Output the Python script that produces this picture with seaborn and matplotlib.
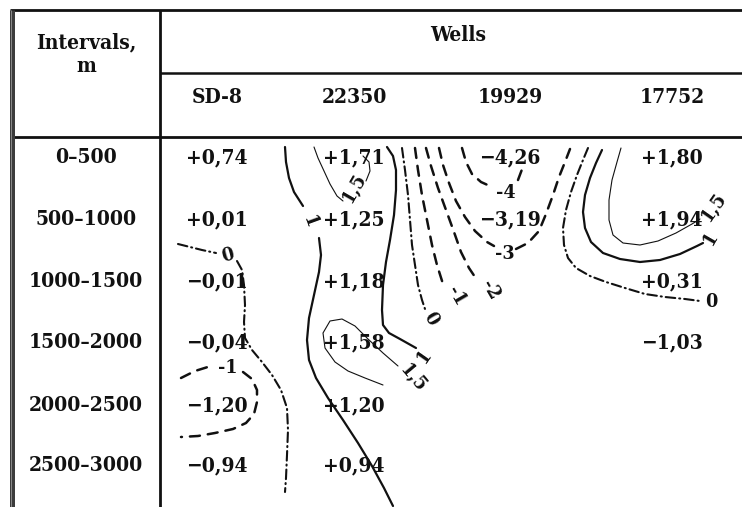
import numpy as np
import pandas as pd
import matplotlib
matplotlib.use("Agg")
import matplotlib.pyplot as plt
import seaborn as sns

# ---- table content -------------------------------------------------------
wells = ["SD-8", "22350", "19929", "17752"]
intervals = ["0–500", "500–1000", "1000–1500", "1500–2000", "2000–2500", "2500–3000"]

sd8 = [0.74, 0.01, -0.01, -0.04, -1.20, -0.94]
w22350 = [1.71, 1.25, 1.18, 1.58, 1.20, 0.94]
w19929 = [-4.26, -3.19, np.nan, np.nan, np.nan, np.nan]
w17752 = [1.80, 1.94, 0.31, -1.03, np.nan, np.nan]
well_values = [sd8, w22350, w19929, w17752]

# ---- isolines (hand-traced, in sheet units) -------------------------------
iso_pos1_west = [
    [(285, 147), (286, 162), (289, 178), (294, 192), (303, 206)],
    [(319, 238), (321, 255), (319, 272), (314, 295), (309, 318), (307, 340),
     (309, 360), (316, 378), (328, 398), (343, 420), (358, 443), (372, 466),
     (384, 488), (393, 506)],
]
iso_pos15_top = [
    [(314, 147), (318, 158), (324, 171), (330, 184), (337, 196), (343, 201)],
    [(366, 181), (370, 171), (369, 162), (363, 156)],
]
iso_pos1_mid = [[(387, 147), (393, 156), (396, 170), (396, 190), (394, 215),
                 (390, 240), (386, 262), (383, 285), (382, 310), (383, 325),
                 (389, 333), (400, 339), (416, 348)]]
iso_pos15_mid = [[(383, 385), (365, 378), (348, 371), (335, 362), (325, 348),
                  (323, 333), (330, 321), (342, 319), (355, 326), (368, 339),
                  (383, 353), (398, 366)]]
iso_zero_mid = [[(402, 148), (405, 170), (408, 195), (410, 220), (412, 245),
                 (415, 265), (418, 285), (422, 300), (425, 309)]]
iso_neg1_mid = [[(415, 148), (418, 170), (422, 195), (427, 220), (432, 245),
                 (437, 265), (443, 284)]]
iso_neg2_mid = [[(426, 148), (431, 166), (438, 188), (446, 210), (454, 232),
                 (461, 252), (469, 268), (477, 280)]]
iso_neg3 = [
    [(439, 148), (443, 165), (449, 183), (456, 201), (465, 217), (475, 231),
     (487, 242), (494, 246)],
    [(516, 249), (528, 243), (539, 231), (546, 214), (553, 195), (559, 177),
     (565, 162), (570, 149)],
]
iso_neg4 = [
    [(462, 148), (466, 162), (472, 174), (481, 182), (492, 187)],
    [(518, 180), (521, 172), (524, 164)],
]
iso_zero_east = [[(588, 148), (583, 160), (577, 175), (571, 192), (566, 210),
                  (563, 228), (564, 245), (568, 258), (576, 268), (590, 276),
                  (606, 282), (625, 288), (645, 294), (665, 297), (685, 299),
                  (700, 301)]]
iso_pos1_east = [[(602, 150), (596, 163), (590, 178), (585, 195), (583, 212),
                  (585, 228), (591, 242), (603, 253), (620, 259), (640, 262),
                  (660, 260), (680, 254), (697, 246), (703, 243)]]
iso_pos15_east = [[(621, 148), (617, 162), (612, 180), (609, 200), (609, 220),
                   (613, 235), (623, 243), (640, 245), (658, 241), (676, 233),
                   (692, 224), (700, 219)]]
iso_zero_west = [
    [(178, 244), (190, 247), (202, 250), (216, 253)],
    [(237, 261), (242, 270), (244, 285), (245, 305), (244, 322), (245, 338),
     (252, 350), (262, 362), (272, 375), (281, 390), (287, 408), (288, 430),
     (287, 455), (286, 478), (285, 492)],
]
iso_neg1_west = [
    [(181, 378), (195, 371), (211, 366)],
    [(243, 372), (252, 379), (257, 390), (257, 402), (254, 414), (246, 423),
     (233, 429), (215, 433), (198, 436), (181, 437)],
]

# isoline labels: text, x, y, rotation
iso_labels = [
    ("1", 310, 222, -70), ("1,5", 355, 188, 60), ("1", 424, 356, 55),
    ("1,5", 413, 379, -50), ("0", 431, 319, -60), ("-1", 456, 296, -60),
    ("-2", 490, 290, -60), ("-3", 505, 254, 0), ("-4", 506, 193, 0),
    ("0", 711, 302, 0), ("1", 711, 238, 60), ("1,5", 714, 207, 55),
    ("0", 228, 256, 15), ("-1", 228, 368, 0),
]

# ---- layout ---------------------------------------------------------------
col_x = [217, 354, 510, 672]
row_y = [156, 218, 280, 341, 404, 464]

sns.set_theme(style="white")
plt.rcParams["font.family"] = ["DejaVu Serif", "DejaVu Sans"]

fig = plt.figure(figsize=(7.42, 5.07), dpi=100)
ax = fig.add_axes([0, 0, 1, 1])
ax.set_xlim(0, 742)
ax.set_ylim(507, 0)
ax.axis("off")

ink = "#111111"
txt = dict(color=ink, fontweight="bold", fontstretch="condensed", fontsize=15)
rule = dict(solid_capstyle="butt")

# table rules
ax.plot([9.5, 742], [10, 10], color=ink, lw=2.0, **rule)
ax.plot([9.5, 742], [137, 137], color=ink, lw=2.0, **rule)
ax.plot([160, 742], [73, 73], color=ink, lw=1.8, **rule)
ax.plot([160, 160], [10, 507], color=ink, lw=2.0, **rule)
ax.plot([11.5, 11.5], [9.5, 507], color="#3c3c3c", lw=3.6, **rule)
ax.plot([11.3, 11.3], [9.5, 507], color="#8a8a8a", lw=0.7, **rule)

# headers
ax.text(86, 48, "Intervals,", ha="center", va="baseline", **txt)
ax.text(86, 72, "m", ha="center", va="baseline", **txt)
ax.text(458, 41, "Wells", ha="center", va="baseline", **txt)
for name, x in zip(wells, col_x):
    ax.text(x, 103, name, ha="center", va="baseline", **txt)

# interval labels and values
for lab, y in zip(intervals, row_y):
    ax.text(86, y + 7, lab, ha="center", va="baseline", **txt)


def fmt(v):
    return f"{v:+.2f}".replace("-", "\u2212").replace(".", ",")


for vals, x in zip(well_values, col_x):
    for v, y in zip(vals, row_y):
        if not np.isnan(v):
            ax.text(x, y + 7, fmt(v), ha="center", va="baseline", **txt)

# isolines
thick = 1.6
thin = 0.8
dashed = (0, (4.0, 3.2))
dashdot = (0, (4.6, 1.9, 0.5, 1.9))


def draw(paths, lw, ls):
    for seg in paths:
        df = pd.DataFrame(seg, columns=["x", "y"])
        sns.lineplot(data=df, x="x", y="y", sort=False, estimator=None, ax=ax,
                     color=ink, lw=lw, linestyle=ls,
                     solid_capstyle="round", dash_capstyle="round")


draw(iso_pos1_west, thick, "-")
draw(iso_pos15_top, thin, "-")
draw(iso_pos1_mid, thick, "-")
draw(iso_pos15_mid, thin, "-")
draw(iso_zero_mid, 1.5, dashdot)
draw(iso_neg1_mid, 1.8, dashed)
draw(iso_neg2_mid, 1.8, dashed)
draw(iso_neg3, 1.8, dashed)
draw(iso_neg4, 1.8, dashed)
draw(iso_zero_east, 1.5, dashdot)
draw(iso_pos1_east, thick, "-")
draw(iso_pos15_east, thin, "-")
draw(iso_zero_west, 1.5, dashdot)
draw(iso_neg1_west, 1.8, dashed)

for s, x, y, r in iso_labels:
    ax.text(x, y, s, ha="center", va="center", rotation=r,
            rotation_mode="anchor", color=ink, fontweight="bold", fontsize=14,
            fontstretch="condensed")

ax.set_xlabel("")
ax.set_ylabel("")
fig.savefig("out.png", dpi=100)
